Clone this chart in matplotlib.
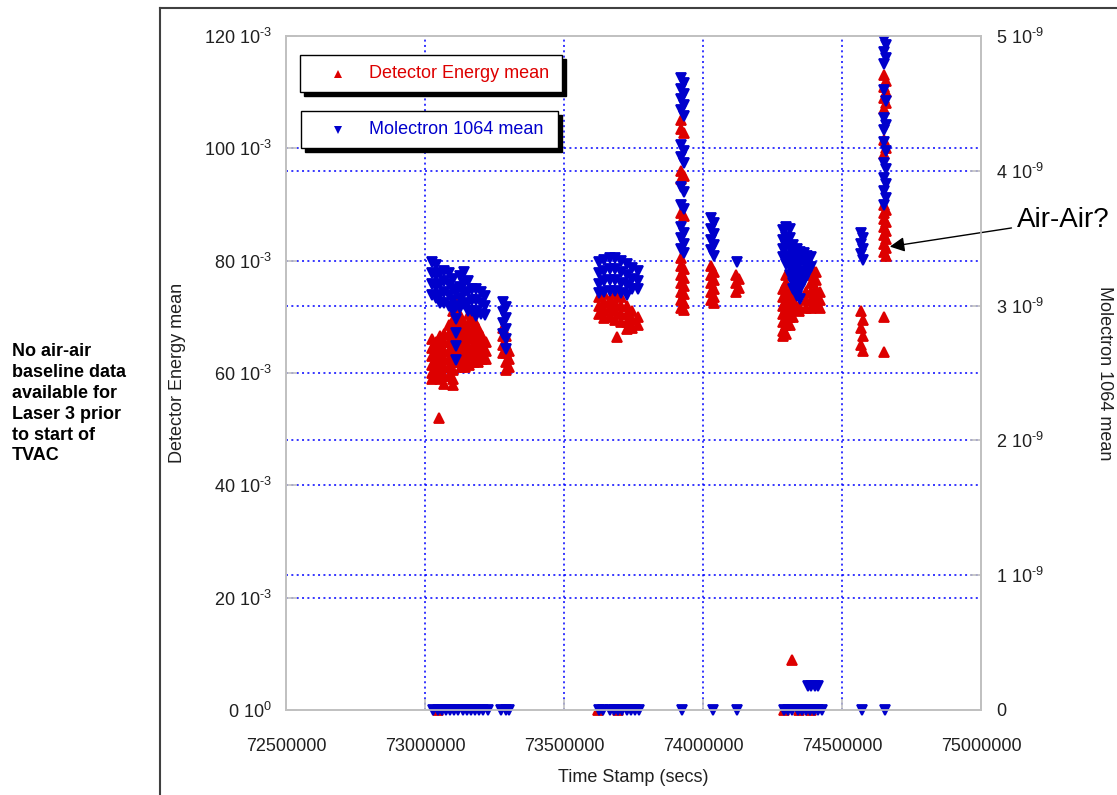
import numpy as np
import matplotlib
matplotlib.use("Agg")
import matplotlib.pyplot as plt
from matplotlib.patches import Rectangle

# ---- data (time in ks, detector energy in 1e-3, molectron in 1e-9) ----
det_run1 = [
    (73025, [66.0, 64.5, 63.0, 61.5, 60.0, 59.0]),
    (73040, [65.5, 64.0, 62.5, 61.0, 59.5]),
    (73050, [52.0]),
    (73055, [66.5, 65.0, 63.5, 62.0, 60.5, 59.0]),
    (73070, [67.0, 65.5, 64.0, 62.5, 61.0, 59.5, 58.0]),
    (73085, [68.5, 67.0, 65.5, 64.0, 62.5, 61.0, 59.5]),
    (73100, [71.0, 69.5, 68.0, 66.5, 65.0, 63.5, 62.0, 60.5, 59.0, 57.8]),
    (73115, [72.5, 71.0, 69.5, 68.0, 66.5, 65.0, 63.5, 62.0]),
    (73130, [70.0, 68.5, 67.0, 65.5, 64.0, 62.5, 61.0]),
    (73145, [68.5, 67.0, 65.5, 64.0, 62.5, 61.0]),
    (73160, [70.5, 69.0, 67.5, 66.0, 64.5, 63.0, 61.5]),
    (73175, [69.5, 68.0, 66.5, 65.0, 63.5, 62.0]),
    (73190, [68.0, 66.5, 65.0, 63.5, 62.0]),
    (73205, [66.5, 65.0, 63.5, 62.5]),
    (73220, [65.5, 64.0, 62.5]),
    (73280, [68.0, 66.5, 65.0, 63.5]),
    (73292, [66.5, 65.0, 63.5, 62.0, 60.5]),
    (73302, [64.0, 62.5, 61.0]),
]
det_run2 = [
    (73625, [73.5, 72.0, 70.5]),
    (73645, [74.0, 72.5, 71.0, 69.8]),
    (73665, [73.0, 71.5, 70.0]),
    (73685, [74.0, 72.5, 71.0, 69.5]),
    (73690, [66.4]),
    (73705, [73.5, 72.0, 70.5, 69.0]),
    (73725, [72.0, 70.5, 69.0, 67.8]),
    (73745, [71.0, 69.5, 68.0]),
    (73765, [70.0, 68.5]),
    (73920, [105.0, 103.5, 96.0, 94.5, 88.5, 80.5, 79.0, 77.5, 76.0, 74.5, 73.0, 71.5]),
    (73930, [102.7, 95.0, 88.0, 78.5, 77.0, 75.5, 74.0, 72.5, 71.2]),
    (74028, [79.0, 77.5, 76.0, 74.5, 73.0]),
    (74038, [78.0, 76.5, 75.0, 73.5, 72.5]),
    (74120, [77.5, 76.0, 74.5]),
    (74128, [76.8, 75.2]),
]
det_run3 = [
    (74288, [75.0, 73.5, 72.0, 70.5, 69.0, 67.5, 66.5]),
    (74300, [77.5, 76.0, 74.5, 73.0, 71.5, 70.0, 68.5, 67.0]),
    (74312, [74.5, 73.0, 71.5, 70.0, 68.5]),
    (74320, [8.9]),
    (74325, [73.0, 71.5, 70.0]),
    (74345, [72.0, 71.0]),
    (74372, [74.5, 73.0, 71.5]),
    (74390, [79.0, 77.5, 76.0, 74.5, 73.0, 71.5]),
    (74405, [78.0, 76.5, 75.0, 73.5, 72.0]),
    (74420, [74.5, 73.0, 71.5]),
    (74567, [71.0, 68.0, 65.0]),
    (74577, [69.5, 66.5, 64.0]),
    (74652, [113.0, 111.0, 109.0, 107.0, 101.5, 99.0, 90.0, 88.5, 87.5, 86.0,
             84.5, 83.0, 81.5, 70.0, 63.7]),
    (74660, [112.0, 110.0, 108.0, 100.0, 89.0, 86.8, 85.2, 83.8, 82.2, 80.8]),
]
det_zero_t = [73045, 73622, 73695, 74290, 74345, 74390]

mol_run1 = [
    (73025, [3.32, 3.24, 3.16, 3.08]),
    (73040, [3.30, 3.22, 3.14, 3.06]),
    (73055, [3.24, 3.16, 3.08, 3.02]),
    (73070, [3.26, 3.18, 3.10, 3.02]),
    (73085, [3.24, 3.16, 3.08, 3.00]),
    (73100, [3.20, 3.12, 3.04, 2.96]),
    (73112, [3.10, 3.00, 2.90, 2.80, 2.70, 2.60]),
    (73125, [3.22, 3.14, 3.06, 2.98]),
    (73140, [3.25, 3.17, 3.09, 3.01]),
    (73155, [3.18, 3.10, 3.02, 2.96]),
    (73170, [3.12, 3.04, 2.96]),
    (73185, [3.12, 3.04, 2.96, 2.92]),
    (73200, [3.10, 3.02, 2.94]),
    (73215, [3.07, 3.00, 2.93]),
    (73280, [3.03, 2.95, 2.87, 2.79]),
    (73292, [2.99, 2.91, 2.83, 2.75, 2.68]),
]
mol_run2 = [
    (73625, [3.32, 3.24, 3.16, 3.09]),
    (73645, [3.34, 3.26, 3.18, 3.10]),
    (73665, [3.35, 3.27, 3.19, 3.11]),
    (73685, [3.35, 3.27, 3.19, 3.11]),
    (73705, [3.33, 3.25, 3.17, 3.09]),
    (73725, [3.31, 3.23, 3.15, 3.08]),
    (73745, [3.28, 3.20, 3.12]),
    (73765, [3.26, 3.18, 3.12]),
    (73920, [4.69, 4.61, 4.53, 4.45, 4.19, 4.10, 3.88, 3.75, 3.58, 3.50, 3.42]),
    (73930, [4.65, 4.57, 4.49, 4.41, 4.15, 4.06, 3.84, 3.72, 3.54, 3.46, 3.39]),
    (74028, [3.65, 3.57, 3.49, 3.41]),
    (74038, [3.61, 3.53, 3.45, 3.37]),
    (74124, [3.32]),
]
mol_run3 = [
    (74288, [3.56, 3.49, 3.42, 3.36]),
    (74300, [3.58, 3.51, 3.44, 3.37, 3.31]),
    (74312, [3.57, 3.50, 3.43, 3.36, 3.29, 3.23]),
    (74325, [3.45, 3.38, 3.31, 3.24, 3.17, 3.12]),
    (74338, [3.42, 3.35, 3.28, 3.21, 3.14, 3.07]),
    (74350, [3.40, 3.33, 3.26, 3.19, 3.12, 3.05]),
    (74362, [3.39, 3.32, 3.25, 3.18]),
    (74375, [3.37, 3.30, 3.23]),
    (74390, [3.36, 3.29]),
    (74378, [0.18]), (74390, [0.18]), (74402, [0.18]), (74415, [0.18]),
    (74567, [3.54, 3.46, 3.38]),
    (74577, [3.50, 3.42, 3.34]),
    (74652, [4.97, 4.88, 4.79, 4.60, 4.39, 4.30, 4.21, 4.06, 3.95, 3.85, 3.75]),
    (74660, [4.93, 4.84, 4.52, 4.34, 4.15, 4.01, 3.90, 3.80]),
]
mol_zero_t = [73030, 73045, 73060, 73075, 73090, 73105, 73120, 73135, 73150,
              73165, 73180, 73195, 73210, 73225, 73275, 73290, 73302,
              73625, 73640, 73665, 73680, 73695, 73710, 73725, 73740, 73755,
              73768, 73925, 74035, 74122, 74290, 74305, 74320, 74340, 74355,
              74370, 74385, 74400, 74415, 74428, 74572, 74655]

x_ticks = [72500000, 73000000, 73500000, 74000000, 74500000, 75000000]
det_ticks = [0, 20e-3, 40e-3, 60e-3, 80e-3, 100e-3, 120e-3]
det_labels = ["0 10$^{0}$", "20 10$^{\u2010 3}$", "40 10$^{\u20103}$", "60 10$^{\u20103}$",
              "80 10$^{\u20103}$", "100 10$^{\u20103}$", "120 10$^{\u20103}$"]
mol_ticks = [0, 1e-9, 2e-9, 3e-9, 4e-9, 5e-9]
mol_labels = ["0", "1 10$^{\u20109}$", "2 10$^{\u20109}$", "3 10$^{\u20109}$",
              "4 10$^{\u20109}$", "5 10$^{\u20109}$"]
det_labels[1] = "20 10$^{\u20103}$"


def flatten(groups, tscale, vscale):
    t = [x * tscale for x, ys in groups for _ in ys]
    v = [y * vscale for _, ys in groups for y in ys]
    return np.array(t), np.array(v)


det_t, det_v = flatten(det_run1 + det_run2 + det_run3, 1e3, 1e-3)
mol_t, mol_v = flatten(mol_run1 + mol_run2 + mol_run3, 1e3, 1e-9)

plt.rcParams['font.family'] = ['Liberation Sans', 'DejaVu Sans']
plt.rcParams['mathtext.default'] = 'regular'

W, H = 1117, 795
fig = plt.figure(figsize=(W / 100, H / 100), dpi=100)


def fx(px):
    return px / W


def fy(py):
    return 1 - py / H


ax = fig.add_axes([fx(286), fy(710), fx(981) - fx(286), fy(36) - fy(710)])
ax2 = ax.twinx()

red = '#dd0000'
blue = '#0000cc'
grid_kw = dict(color='#0000ff', lw=1.1, ls=(0, (1.3, 2.2)), zorder=0)

ax.set_xlim(72500000, 75000000)
ax.set_ylim(0, 0.12)
ax2.set_ylim(0, 5e-9)

for t in x_ticks[1:-1]:
    ax.axvline(t, **grid_kw)
for t in det_ticks[1:-1]:
    ax.axhline(t, **grid_kw)
scale = 0.12 / 5e-9
for t in mol_ticks[1:-1]:
    ax.axhline(t * scale, **grid_kw)

mk = dict(ls='none', ms=7, mew=1.3)
ax.plot(det_t, det_v, marker='^', color=red, mec=red, **mk)
ax.plot(np.array(det_zero_t) * 1e3, np.zeros(len(det_zero_t)), marker='^',
        color=red, mec=red, clip_on=False, **mk)
ax2.plot(mol_t, mol_v, marker='v', color=blue, mec=blue, **mk)
ax2.plot(np.array(mol_zero_t) * 1e3, np.zeros(len(mol_zero_t)), marker='v',
         color=blue, mec=blue, clip_on=False, **mk)

ax.set_xticks(x_ticks)
ax.set_xticklabels([str(t) for t in x_ticks])
ax.set_yticks(det_ticks)
ax.set_yticklabels(det_labels)
ax2.set_yticks(mol_ticks)
ax2.set_yticklabels(mol_labels)

for a in (ax, ax2):
    for s in a.spines.values():
        s.set_color('#c0c0c0')
        s.set_linewidth(1.2)
    a.tick_params(direction='in', length=8, width=1.2, color='#c0c0c0',
                  labelsize=13, labelcolor='#202020')
ax.tick_params(axis='x', pad=20)
ax.tick_params(axis='y', pad=10)
ax2.tick_params(axis='y', pad=11)

fig.text(fx(633), fy(777), 'Time Stamp (secs)', ha='center', va='center',
         fontsize=13, color='#202020')
fig.text(fx(178), fy(373), 'Detector Energy mean', ha='center', va='center',
         rotation=90, fontsize=13, color='#202020')
fig.text(fx(1105), fy(373), 'Molectron 1064 mean', ha='center', va='center',
         rotation=-90, fontsize=13, color='#202020')

# legend boxes with drop shadow
for (x0, y0, x1, y1, m, col, lab) in [
        (300, 55, 562, 92, '^', red, 'Detector Energy mean'),
        (301, 111, 558, 148, 'v', blue, 'Molectron 1064 mean')]:
    fig.patches.append(Rectangle((fx(x0 + 4), fy(y1 + 4)), fx(x1 - x0), fy(y0) - fy(y1),
                                 transform=fig.transFigure, facecolor='black',
                                 edgecolor='black', zorder=5))
    fig.patches.append(Rectangle((fx(x0), fy(y1)), fx(x1 - x0), fy(y0) - fy(y1),
                                 transform=fig.transFigure, facecolor='white',
                                 edgecolor='black', lw=1, zorder=6))
    cy = (y0 + y1) / 2
    fig.lines.append(plt.Line2D([fx(338)], [fy(cy)], transform=fig.transFigure,
                                marker=m, ms=6, color=col, mew=0, ls='none', zorder=7))
    fig.text(fx(369), fy(cy), lab, ha='left', va='center', fontsize=13,
             color=col, zorder=7)

# annotation
ax.annotate('Air-Air?', xy=(74672000, 0.0825), xycoords='data',
            xytext=(fx(1017), fy(220)), textcoords='figure fraction',
            fontsize=20, ha='left', va='center', color='black',
            arrowprops=dict(arrowstyle='-|>', color='black', lw=1,
                            mutation_scale=22, shrinkA=2, shrinkB=0))

# left note and slide frame
fig.text(fx(12), fy(343), 'No air-air\nbaseline data\navailable for\nLaser 3 prior\nto start of\nTVAC',
         ha='left', va='top', fontsize=13, fontweight='bold', linespacing=1.3)
fig.lines.append(plt.Line2D([fx(160), fx(160)], [fy(8), 0], transform=fig.transFigure,
                            color='#404040', lw=1.5))
fig.lines.append(plt.Line2D([fx(160), 1], [fy(8), fy(8)], transform=fig.transFigure,
                            color='#404040', lw=1.5))

fig.savefig('out.png', dpi=100)
